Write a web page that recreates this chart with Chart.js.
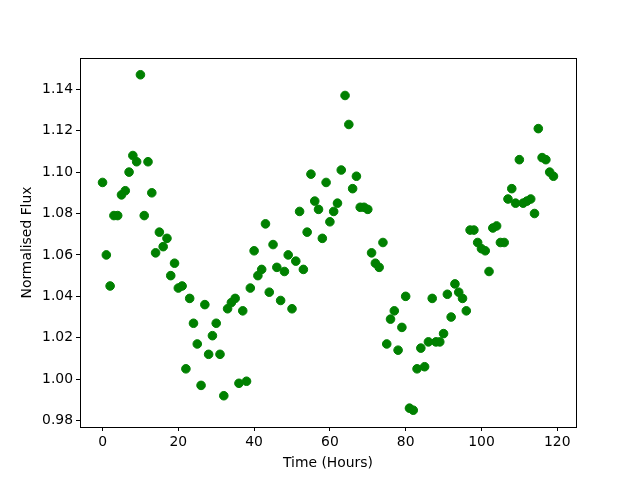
<!DOCTYPE html>
<html>
<head>
<meta charset="utf-8">
<script src="https://cdn.jsdelivr.net/npm/chart.js@4"></script>
<style>
  html, body { margin: 0; padding: 0; background: #fff; }
  #wrap { width: 640px; height: 480px; }
</style>
</head>
<body>
<div id="wrap"><canvas id="fluxChart" width="640" height="480"></canvas></div>
<script>
// Hours since start of observation
const hours = [
    0, 1, 2, 3, 4, 5, 6, 7, 8, 9,
    10, 11, 12, 13, 14, 15, 16, 17, 18, 19,
    20, 21, 22, 23, 24, 25, 26, 27, 28, 29,
    30, 31, 32, 33, 34, 35, 36, 37, 38, 39,
    40, 41, 42, 43, 44, 45, 46, 47, 48, 49,
    50, 51, 52, 53, 54, 55, 56, 57, 58, 59,
    60, 61, 62, 63, 64, 65, 66, 67, 68, 69,
    70, 71, 72, 73, 74, 75, 76, 77, 78, 79,
    80, 81, 82, 83, 84, 85, 86, 87, 88, 89,
    90, 91, 92, 93, 94, 95, 96, 97, 98, 99,
    100, 101, 102, 103, 104, 105, 106, 107, 108, 109,
    110, 111, 112, 113, 114, 115, 116, 117, 118, 119
];

// Normalised flux
const flux = [
    1.095, 1.060, 1.045, 1.079, 1.079, 1.089, 1.091, 1.100, 1.108, 1.105,
    1.147, 1.079, 1.105, 1.090, 1.061, 1.071, 1.064, 1.068, 1.050, 1.056,
    1.044, 1.045, 1.005, 1.039, 1.027, 1.017, 0.997, 1.036, 1.012, 1.021,
    1.027, 1.012, 0.992, 1.034, 1.037, 1.039, 0.998, 1.033, 0.999, 1.044,
    1.062, 1.050, 1.053, 1.075, 1.042, 1.065, 1.054, 1.038, 1.052, 1.060,
    1.034, 1.057, 1.081, 1.053, 1.071, 1.099, 1.086, 1.082, 1.068, 1.095,
    1.076, 1.081, 1.085, 1.101, 1.137, 1.123, 1.092, 1.098, 1.083, 1.083,
    1.082, 1.061, 1.056, 1.054, 1.066, 1.017, 1.029, 1.033, 1.014, 1.025,
    1.040, 0.986, 0.985, 1.005, 1.015, 1.006, 1.018, 1.039, 1.018, 1.018,
    1.022, 1.041, 1.030, 1.046, 1.042, 1.039, 1.033, 1.072, 1.072, 1.066,
    1.063, 1.062, 1.052, 1.073, 1.074, 1.066, 1.066, 1.087, 1.092, 1.085,
    1.106, 1.085, 1.086, 1.087, 1.080, 1.121, 1.107, 1.106, 1.100, 1.098
];

// Tick labels
const xTicks = [0, 20, 40, 60, 80, 100, 120];
const yTicks = [0.98, 1.00, 1.02, 1.04, 1.06, 1.08, 1.10, 1.12, 1.14];

const FONT = { family: 'DejaVu Sans', size: 13.9 };
const GREEN = '#008000';

// Box around the plot area, like matplotlib spines
const frameBox = {
    id: 'frameBox',
    afterDatasetsDraw(chart) {
        const { ctx, chartArea: a } = chart;
        ctx.save();
        ctx.strokeStyle = '#000';
        ctx.lineWidth = 1;
        ctx.strokeRect(Math.round(a.left) + 0.5, Math.round(a.top) + 0.5,
            Math.round(a.right - a.left), Math.round(a.bottom - a.top));
        ctx.restore();
    }
};

function fixedTicks(list) {
    return scale => { scale.ticks = list.map(v => ({ value: v })); };
}

const points = hours.map((h, i) => ({ x: h, y: flux[i] }));

new Chart(document.getElementById('fluxChart'), {
    type: 'scatter',
    data: {
        datasets: [{
            data: points,
            backgroundColor: GREEN,
            borderColor: GREEN,
            borderWidth: 1,
            pointRadius: 4.3,
            pointHoverRadius: 4.3
        }]
    },
    options: {
        responsive: false,
        animation: false,
        devicePixelRatio: 1,
        layout: { padding: { left: 0, top: 58, right: 64, bottom: 0 } },
        plugins: {
            legend: { display: false },
            tooltip: { enabled: false }
        },
        scales: {
            x: {
                type: 'linear',
                min: -5.95,
                max: 124.95,
                afterBuildTicks: fixedTicks(xTicks),
                afterFit: s => { s.height = 53; },
                grid: { display: true, drawOnChartArea: false, tickLength: 4, color: '#000' },
                border: { display: true, color: '#000' },
                ticks: { color: '#000', font: FONT, padding: 3, maxRotation: 0 },
                title: { display: true, text: 'Time (Hours)', color: '#000', font: FONT, padding: { top: 0, bottom: 8 } }
            },
            y: {
                type: 'linear',
                min: 0.9769,
                max: 1.1551,
                afterBuildTicks: fixedTicks(yTicks),
                afterFit: s => { s.width = 80; },
                grid: { display: true, drawOnChartArea: false, tickLength: 4, color: '#000' },
                border: { display: true, color: '#000' },
                ticks: {
                    color: '#000', font: FONT, padding: 3,
                    callback: v => v.toFixed(2)
                },
                title: { display: true, text: 'Normalised Flux', color: '#000', font: FONT, padding: { top: 19 } }
            }
        }
    },
    plugins: [frameBox]
});
</script>
</body>
</html>
